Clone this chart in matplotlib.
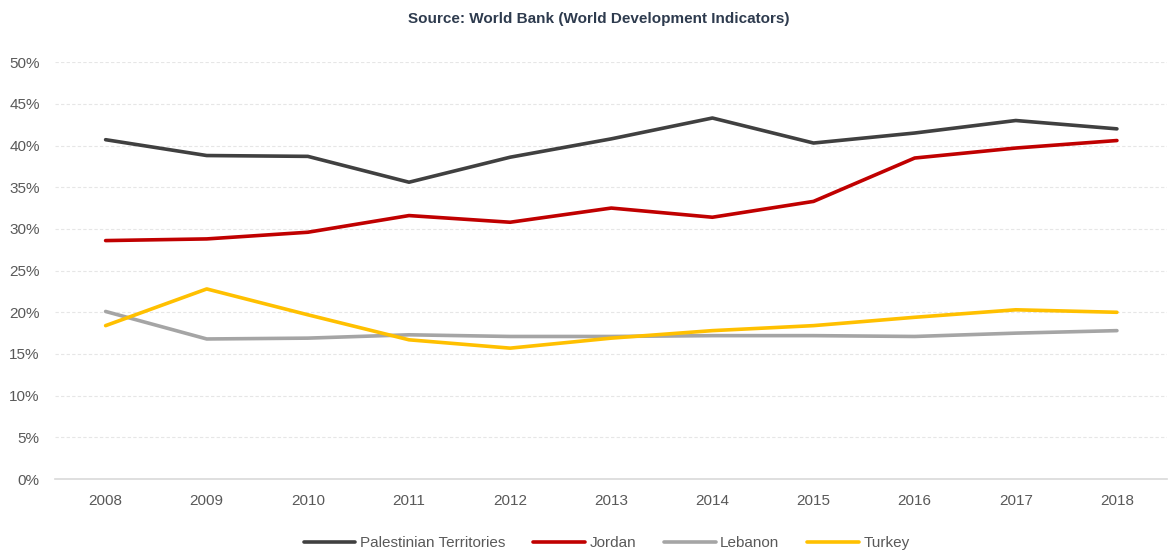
import matplotlib
matplotlib.use("Agg")
import matplotlib.pyplot as plt
from matplotlib.ticker import FuncFormatter

plt.rcParams['font.family'] = ['Liberation Sans', 'DejaVu Sans']

years = ["2008", "2009", "2010", "2011", "2012", "2013", "2014", "2015", "2016", "2017", "2018"]
palestine = [40.7, 38.8, 38.7, 35.6, 38.6, 40.8, 43.3, 40.3, 41.5, 43.0, 42.0]
jordan = [28.6, 28.8, 29.6, 31.6, 30.8, 32.5, 31.4, 33.3, 38.5, 39.7, 40.6]
lebanon = [20.1, 16.8, 16.9, 17.3, 17.1, 17.1, 17.2, 17.2, 17.1, 17.5, 17.8]
turkey = [18.4, 22.8, 19.7, 16.7, 15.7, 16.9, 17.8, 18.4, 19.4, 20.3, 20.0]

series = [
    ("Palestinian Territories", palestine, "#404040"),
    ("Jordan", jordan, "#C00000"),
    ("Lebanon", lebanon, "#A5A5A5"),
    ("Turkey", turkey, "#FFC000"),
]

fig = plt.figure(figsize=(11.71, 5.5), dpi=100)
ax = fig.add_axes([0.047, 0.129, 0.950, 0.758])

x = list(range(len(years)))
for name, vals, col in series:
    ax.plot(x, vals, color=col, lw=2.6, label=name, solid_capstyle='round', solid_joinstyle='round')

ax.set_xlim(-0.5, len(years) - 0.5)
ax.set_ylim(0, 50)
ax.set_yticks(range(0, 51, 5))
ax.yaxis.set_major_formatter(FuncFormatter(lambda v, p: f"{int(v)}%"))
ax.set_xticks(x)
ax.set_xticklabels(years)
ax.grid(axis='y', color='#E6E6E6', linestyle=(0, (3, 2)), lw=0.8)
ax.set_axisbelow(True)
for s in ['top', 'right', 'left']:
    ax.spines[s].set_visible(False)
ax.spines['bottom'].set_color('#D9D9D9')
ax.spines['bottom'].set_linewidth(1.2)
ax.tick_params(axis='both', length=0, labelsize=11, colors='#595959')
ax.tick_params(axis='x', pad=11)
ax.tick_params(axis='y', pad=11)

fig.text(0.5115, 0.965, "Source: World Bank (World Development Indicators)", ha='center', va='center',
         fontsize=11, fontweight='bold', color='#2E3B4E')

leg = fig.legend(loc='center', bbox_to_anchor=(0.518, 0.012), ncol=4, frameon=False,
                 fontsize=11, handlelength=3.4, handletextpad=0.3, columnspacing=1.8)
for t in leg.get_texts():
    t.set_color('#595959')

fig.savefig("out.png", dpi=100)
